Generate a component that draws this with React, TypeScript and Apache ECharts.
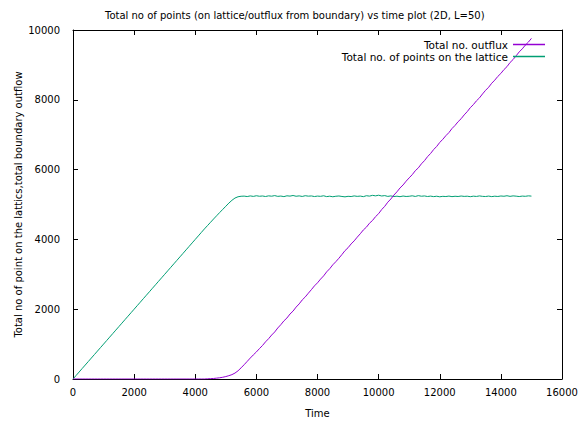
import React, { useEffect, useRef } from "react";
import * as echarts from "echarts";

const TITLE = "Total no of points (on lattice/outflux from boundary) vs time plot (2D, L=50)";
const X_NAME = "Time";
const Y_NAME = "Total no of point on the lattics,total boundary outflow";
const SERIES_NAMES = ["Total no. outflux", "Total no. of points on the lattice"];

const TIME = [
  0, 100, 200, 300, 400, 500, 600, 700, 800, 900,
  1000, 1100, 1200, 1300, 1400, 1500, 1600, 1700, 1800, 1900,
  2000, 2100, 2200, 2300, 2400, 2500, 2600, 2700, 2800, 2900,
  3000, 3100, 3200, 3300, 3400, 3500, 3600, 3700, 3800, 3900,
  4000, 4100, 4200, 4300, 4400, 4500, 4600, 4700, 4800, 4900,
  5000, 5100, 5200, 5300, 5400, 5500, 5600, 5700, 5800, 5900,
  6000, 6100, 6200, 6300, 6400, 6500, 6600, 6700, 6800, 6900,
  7000, 7100, 7200, 7300, 7400, 7500, 7600, 7700, 7800, 7900,
  8000, 8100, 8200, 8300, 8400, 8500, 8600, 8700, 8800, 8900,
  9000, 9100, 9200, 9300, 9400, 9500, 9600, 9700, 9800, 9900,
  10000, 10100, 10200, 10300, 10400, 10500, 10600, 10700, 10800, 10900,
  11000, 11100, 11200, 11300, 11400, 11500, 11600, 11700, 11800, 11900,
  12000, 12100, 12200, 12300, 12400, 12500, 12600, 12700, 12800, 12900,
  13000, 13100, 13200, 13300, 13400, 13500, 13600, 13700, 13800, 13900,
  14000, 14100, 14200, 14300, 14400, 14500, 14600, 14700, 14800, 14900,
  15000,
];

const OUTFLUX = [
  0, 0, 0, 0, 0, 0, 0, 0, 0, 0,
  0, 0, 0, 0, 0, 0, 0, 0, 0, 0,
  0, 0, 0, 0, 0, 0, 0, 0, 0, 0,
  0, 0, 0, 0, 0, 0, 0, 0, 0, 0,
  0, 0, 0, 0, 5, 10, 15, 25, 35, 50,
  70, 95, 125, 170, 235, 320, 410, 505, 600, 690,
  775, 870, 960, 1065, 1155, 1260, 1348, 1462, 1556, 1665,
  1748, 1862, 1946, 2060, 2152, 2265, 2352, 2458, 2560, 2668,
  2756, 2862, 2954, 3070, 3160, 3272, 3361, 3460, 3566, 3678,
  3762, 3870, 3958, 4064, 4162, 4271, 4350, 4463, 4542, 4653,
  4738, 4855, 4948, 5066, 5158, 5270, 5364, 5474, 5560, 5668,
  5764, 5855, 5968, 6050, 6165, 6256, 6370, 6462, 6574, 6664,
  6778, 6868, 6972, 7060, 7176, 7265, 7372, 7458, 7568, 7662,
  7775, 7862, 7970, 8055, 8168, 8272, 8360, 8474, 8563, 8670,
  8756, 8865, 8950, 9068, 9154, 9262, 9372, 9460, 9566, 9653,
  9760,
];

const LATTICE = [
  0, 100, 200, 300, 400, 500, 600, 700, 800, 900,
  1000, 1100, 1200, 1300, 1400, 1500, 1600, 1700, 1800, 1900,
  2000, 2100, 2200, 2300, 2400, 2500, 2600, 2700, 2800, 2900,
  3000, 3100, 3200, 3300, 3400, 3500, 3600, 3700, 3800, 3900,
  4000, 4100, 4200, 4300, 4395, 4490, 4585, 4678, 4770, 4860,
  4950, 5040, 5120, 5185, 5222, 5236, 5240, 5228, 5246, 5232,
  5251, 5236, 5244, 5229, 5248, 5238, 5255, 5233, 5242, 5226,
  5249, 5240, 5258, 5236, 5247, 5231, 5252, 5239, 5245, 5228,
  5241, 5234, 5250, 5226, 5238, 5222, 5236, 5244, 5230, 5219,
  5235, 5228, 5246, 5233, 5241, 5225, 5252, 5240, 5262, 5248,
  5266, 5244, 5255, 5232, 5246, 5228, 5238, 5224, 5243, 5230,
  5236, 5249, 5231, 5254, 5237, 5245, 5229, 5240, 5226, 5237,
  5221, 5234, 5228, 5241, 5225, 5236, 5229, 5243, 5232, 5238,
  5224, 5239, 5231, 5246, 5233, 5229, 5241, 5226, 5238, 5230,
  5244, 5236, 5251, 5233, 5247, 5239, 5228, 5241, 5235, 5248,
  5240,
];

const COLORS = ["#9400D3", "#009E73"];
const FONT = "DejaVu Sans";

export default function App() {
  const ref = useRef<HTMLDivElement>(null);
  useEffect(() => {
    if (!ref.current) return;
    const chart = echarts.init(ref.current, undefined, { renderer: "svg" });
    const axisCommon = {
      type: "value" as const,
      axisLine: { show: true, onZero: false, lineStyle: { color: "#000", width: 1 } },
      axisTick: { show: true, inside: true, length: 5, lineStyle: { color: "#000" } },
      splitLine: { show: false },
    };
    const labelStyle = { color: "#000", fontFamily: FONT, fontSize: 10 };
    const fmt = (v: number) => String(v);
    chart.setOption({
      animation: false,
      backgroundColor: "#fff",
      title: {
        text: TITLE,
        left: 100,
        top: 5,
        textStyle: { fontFamily: FONT, fontSize: 10, fontWeight: "normal", color: "#000" },
      },
      legend: {
        orient: "vertical",
        right: 30,
        top: 34,
        align: "right",
        itemGap: 1,
        itemWidth: 32,
        itemHeight: 1.5,
        icon: "rect",
        textStyle: { fontFamily: FONT, fontSize: 10.5, color: "#000", padding: [0, 0, 0, 0] },
        data: SERIES_NAMES,
      },
      grid: { left: 73, right: 18, top: 30, bottom: 43, containLabel: false, outerBoundsMode: "none" },
      xAxis: [
        {
          ...axisCommon,
          position: "bottom",
          min: 0,
          max: 16000,
          interval: 2000,
          name: X_NAME,
          nameLocation: "middle",
          nameGap: 29,
          nameMoveOverlap: false,
          nameTextStyle: labelStyle,
          axisLabel: { ...labelStyle, margin: 8, formatter: fmt },
        },
        {
          ...axisCommon,
          position: "top",
          min: 0,
          max: 16000,
          interval: 2000,
          axisLabel: { show: false },
        },
      ],
      yAxis: [
        {
          ...axisCommon,
          position: "left",
          min: 0,
          max: 10000,
          interval: 2000,
          name: Y_NAME,
          nameLocation: "middle",
          nameGap: 50,
          nameMoveOverlap: false,
          nameTextStyle: labelStyle,
          axisLabel: { ...labelStyle, margin: 13, formatter: fmt },
        },
        {
          ...axisCommon,
          position: "right",
          min: 0,
          max: 10000,
          interval: 2000,
          axisLabel: { show: false },
        },
      ],
      series: [
        {
          name: SERIES_NAMES[0],
          type: "line",
          data: TIME.map((t, i) => [t, OUTFLUX[i]]),
          showSymbol: false,
          lineStyle: { color: COLORS[0], width: 1 },
          itemStyle: { color: COLORS[0] },
          z: 3,
        },
        {
          name: SERIES_NAMES[1],
          type: "line",
          data: TIME.map((t, i) => [t, LATTICE[i]]),
          showSymbol: false,
          lineStyle: { color: COLORS[1], width: 1 },
          itemStyle: { color: COLORS[1] },
          z: 2,
        },
      ],
    });
    return () => chart.dispose();
  }, []);
  return <div ref={ref} style={{ width: 580, height: 422, position: "absolute", left: 0, top: 0 }} />;
}
